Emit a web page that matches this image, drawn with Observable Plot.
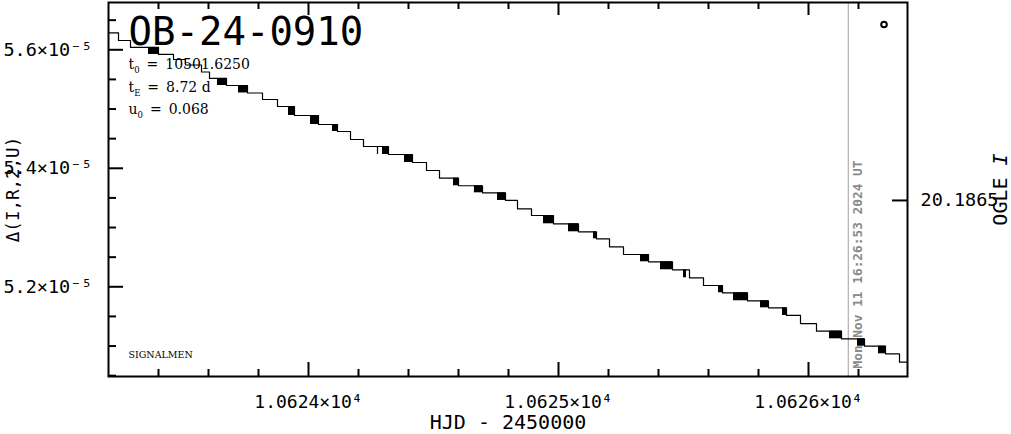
<!DOCTYPE html>
<html><head><meta charset="utf-8">
<script src="https://cdn.jsdelivr.net/npm/d3@7"></script>
<script src="https://cdn.jsdelivr.net/npm/@observablehq/plot@0.6"></script>
<style>body{margin:0;background:#fff;} svg{display:block}</style>
</head><body><div id="chart"></div>
<script>
// ---- data ----
const title = "OB-24-0910";
const paramNames = ["t", "t", "u"];
const paramSubs = ["0", "E", "0"];
const paramValues = ["10501.6250", "8.72 d", "0.068"];
const credit = "SIGNALMEN";
const xLabel = "HJD - 2450000";
const yLabel = "\u0394(I,R,2,U)";
const rightLabelMain = "OGLE";
const rightLabelBand = "I";

// stepped model curve: level start (HJD-2450000) and level value
const stepX = [10623.200, 10623.240, 10623.288, 10623.400, 10623.460, 10623.508, 10623.572, 10623.604,
  10623.672, 10623.756, 10623.816, 10623.876, 10623.944, 10624.040, 10624.116, 10624.168, 10624.220,
  10624.320, 10624.416, 10624.472, 10624.524, 10624.600, 10624.696, 10624.788, 10624.836, 10624.892,
  10624.980, 10625.080, 10625.152, 10625.204, 10625.260, 10625.360, 10625.456, 10625.524, 10625.580,
  10625.656, 10625.756, 10625.840, 10625.912, 10625.968, 10626.032, 10626.132, 10626.224, 10626.308,
  10626.364, 10626.396];
const stepY = [5.6284e-5, 5.6157e-5, 5.6039e-5, 5.5921e-5, 5.5836e-5, 5.5743e-5, 5.5625e-5, 5.5516e-5,
  5.5397e-5, 5.5271e-5, 5.5161e-5, 5.5043e-5, 5.4891e-5, 5.4739e-5, 5.4621e-5, 5.4486e-5, 5.4368e-5,
  5.4233e-5, 5.4098e-5, 5.3963e-5, 5.3833e-5, 5.3705e-5, 5.3586e-5, 5.3457e-5, 5.3316e-5, 5.3203e-5,
  5.3063e-5, 5.2928e-5, 5.2810e-5, 5.2675e-5, 5.2545e-5, 5.2422e-5, 5.2287e-5, 5.2152e-5, 5.2022e-5,
  5.1899e-5, 5.1764e-5, 5.1645e-5, 5.1516e-5, 5.1380e-5, 5.1251e-5, 5.1122e-5, 5.0997e-5, 5.0869e-5,
  5.0727e-5, 5.0727e-5];

// dense clusters of samples (start, end, upper level, lower level)
const clusterX1 = [10623.360, 10623.636, 10623.720, 10623.920, 10624.008, 10624.096, 10624.296, 10624.384,
  10624.580, 10624.668, 10624.756, 10624.940, 10625.040, 10625.140, 10625.328, 10625.408, 10625.500,
  10625.640, 10625.700, 10625.808, 10625.896, 10626.084, 10626.196, 10626.280];
const clusterX2 = [10623.400, 10623.672, 10623.756, 10623.944, 10624.040, 10624.116, 10624.320, 10624.416,
  10624.600, 10624.696, 10624.788, 10624.980, 10625.080, 10625.152, 10625.360, 10625.456, 10625.512,
  10625.656, 10625.756, 10625.840, 10625.912, 10626.132, 10626.224, 10626.308];
const clusterTop = [5.6039e-5, 5.5516e-5, 5.5397e-5, 5.5043e-5, 5.4891e-5, 5.4739e-5, 5.4368e-5, 5.4233e-5,
  5.3833e-5, 5.3705e-5, 5.3586e-5, 5.3203e-5, 5.3063e-5, 5.2928e-5, 5.2545e-5, 5.2422e-5, 5.2287e-5,
  5.2022e-5, 5.1899e-5, 5.1764e-5, 5.1645e-5, 5.1251e-5, 5.1122e-5, 5.0997e-5];
const clusterBottom = [5.5921e-5, 5.5397e-5, 5.5271e-5, 5.4891e-5, 5.4739e-5, 5.4621e-5, 5.4233e-5, 5.4098e-5,
  5.3705e-5, 5.3586e-5, 5.3457e-5, 5.3063e-5, 5.2928e-5, 5.2810e-5, 5.2422e-5, 5.2287e-5, 5.2152e-5,
  5.1899e-5, 5.1764e-5, 5.1645e-5, 5.1516e-5, 5.1122e-5, 5.0997e-5, 5.0869e-5];
const spikeX = [10624.276, 10624.664];
const spikeTop = [5.4368e-5, 5.3705e-5];
const spikeBottom = [5.4233e-5, 5.3586e-5];

// OGLE point
const pointX = [10626.302];
const pointY = [5.6427e-5];

// current time marker
const nowX = [10626.159];
const nowLabel = "Mon Nov 11 16:26:53 2024 UT";

// axes
const xDomain = [10623.2, 10626.396];
const yDomain = [5.0486e-5, 5.6798e-5];
const xMajor = [10624, 10625, 10626];
const xMinor = [10623.4, 10623.6, 10623.8, 10624.2, 10624.4, 10624.6, 10624.8, 10625.2, 10625.4, 10625.6, 10625.8, 10626.2];
const yMajor = [5.2e-5, 5.4e-5, 5.6e-5];
const yMinor = [5.05e-5, 5.1e-5, 5.15e-5, 5.25e-5, 5.3e-5, 5.35e-5, 5.45e-5, 5.5e-5, 5.55e-5, 5.65e-5];
const rightTickAt = [5.3457e-5];
const rightTickLabels = ["20.1865"];

// ---- build ----
const stepData = stepX.map((x, i) => ({x, y: stepY[i]}));
const clusters = clusterX1.map((x1, i) => ({x1, x2: clusterX2[i], y1: clusterTop[i], y2: clusterBottom[i]}));
const spikes = spikeX.map((x, i) => ({x, y1: spikeTop[i], y2: spikeBottom[i]}));
const points = pointX.map((x, i) => ({x, y: pointY[i]}));

const W = 1011, H = 434, mL = 108, mR = 104, mT = 2, mB = 58;
const fw = W - mL - mR, fh = H - mT - mB;
const mono = "DejaVu Sans Mono";
const serif = "DejaVu Serif";
const fmtX = v => (v / 1e4).toFixed(4) + "\u00d710\u2074";
const fmtY = v => (v * 1e5).toFixed(1) + "\u00d710\u207b\u2075";

const paramMarks = paramNames.map((n, i) => Plot.text([n], {
  frameAnchor: "top-left", dx: 20, dy: [62, 85, 107][i], textAnchor: "start", lineAnchor: "middle",
  fontFamily: serif, fontSize: 14, ariaLabel: () => "param-" + i
}));

const plot = Plot.plot({
  width: W, height: H,
  marginLeft: mL, marginRight: mR, marginTop: mT, marginBottom: mB,
  style: {fontFamily: mono, fontSize: "18.5px", background: "white", color: "black"},
  x: {domain: xDomain},
  y: {domain: yDomain},
  marks: [
    Plot.ruleX(nowX, {stroke: "#a0a0a0", strokeWidth: 1}),
    Plot.text(nowX, {x: d => d, frameAnchor: "bottom", text: () => nowLabel, rotate: -90, textAnchor: "start",
      lineAnchor: "middle", dx: 10, dy: -8, fill: "#8a8a8a", fontWeight: "bold", fontSize: 12.8, fontFamily: mono}),
    Plot.line(stepData, {x: "x", y: "y", curve: "step-after", stroke: "black", strokeWidth: 1.2}),
    Plot.rect(clusters, {x1: "x1", x2: "x2", y1: "y1", y2: "y2", fill: "black"}),
    Plot.ruleX(spikes, {x: "x", y1: "y1", y2: "y2", stroke: "black", strokeWidth: 1.2}),
    Plot.dot(points, {x: "x", y: "y", r: 2.8, stroke: "black", strokeWidth: 2, fill: "none"}),
    // inward ticks
    Plot.ruleY(yMajor, {insetRight: fw - 15, strokeWidth: 2}),
    Plot.ruleY(yMinor, {insetRight: fw - 8, strokeWidth: 2}),
    Plot.ruleY(rightTickAt, {insetLeft: fw - 15, strokeWidth: 2}),
    Plot.ruleX(xMajor, {insetTop: fh - 14, strokeWidth: 2}),
    Plot.ruleX(xMinor, {insetTop: fh - 7, strokeWidth: 2}),
    Plot.ruleX(xMajor, {insetBottom: fh - 13, strokeWidth: 2}),
    Plot.ruleX(xMinor, {insetBottom: fh - 7, strokeWidth: 2}),
    Plot.frame({stroke: "black", strokeWidth: 2}),
    Plot.axisX(xMajor, {anchor: "bottom", tickSize: 0, tickPadding: 19, tickFormat: fmtX, label: null, fontSize: 18}),
    Plot.axisY(yMajor, {anchor: "left", tickSize: 0, tickPadding: 16, tickFormat: fmtY, label: null}),
    Plot.axisY(rightTickAt, {anchor: "right", tickSize: 0, tickPadding: 13,
      tickFormat: d => rightTickLabels[rightTickAt.indexOf(d)], label: null}),
    Plot.text([xLabel], {frameAnchor: "bottom", dy: 46.5, lineAnchor: "middle", textAnchor: "middle", fontSize: 20, fontFamily: mono}),
    Plot.text([yLabel], {frameAnchor: "left", dx: -95, rotate: -90, textAnchor: "middle", lineAnchor: "middle", fontSize: 17.5, fontFamily: mono}),
    Plot.text([rightLabelMain + " " + rightLabelBand], {frameAnchor: "right", dx: 93, rotate: -90, textAnchor: "middle",
      lineAnchor: "middle", fontSize: 20, fontFamily: mono, ariaLabel: () => "rightlabel"}),
    Plot.text([title], {frameAnchor: "top-left", dx: 20, dy: 30, textAnchor: "start", lineAnchor: "middle", fontSize: 39, fontFamily: mono}),
    ...paramMarks,
    Plot.text([credit], {frameAnchor: "bottom-left", dx: 20, dy: -22, textAnchor: "start", lineAnchor: "middle", fontSize: 9.5, fontFamily: serif})
  ]
});
document.getElementById("chart").appendChild(plot);

function findText(label) {
  const el = plot.querySelector(`[aria-label="${label}"]`);
  if (!el) return null;
  return el.tagName.toLowerCase() === "text" ? el : el.querySelector("text");
}
// subscripts for parameter names
paramNames.forEach((n, i) => {
  const t = findText("param-" + i);
  if (!t) return;
  const s = d3.select(t);
  s.text(null);
  s.append("tspan").text(n);
  s.append("tspan").attr("dy", 4).attr("font-size", 8.5).text(paramSubs[i]);
  s.append("tspan").attr("dy", -4).text("\u2002=\u2002" + paramValues[i]);
});
// italic band letter in right label
{
  const t = findText("rightlabel");
  if (t) {
    const s = d3.select(t);
    s.text(null);
    s.append("tspan").text(rightLabelMain + " ");
    s.append("tspan").attr("font-style", "italic").text(rightLabelBand);
  }
}
</script>
</body></html>
